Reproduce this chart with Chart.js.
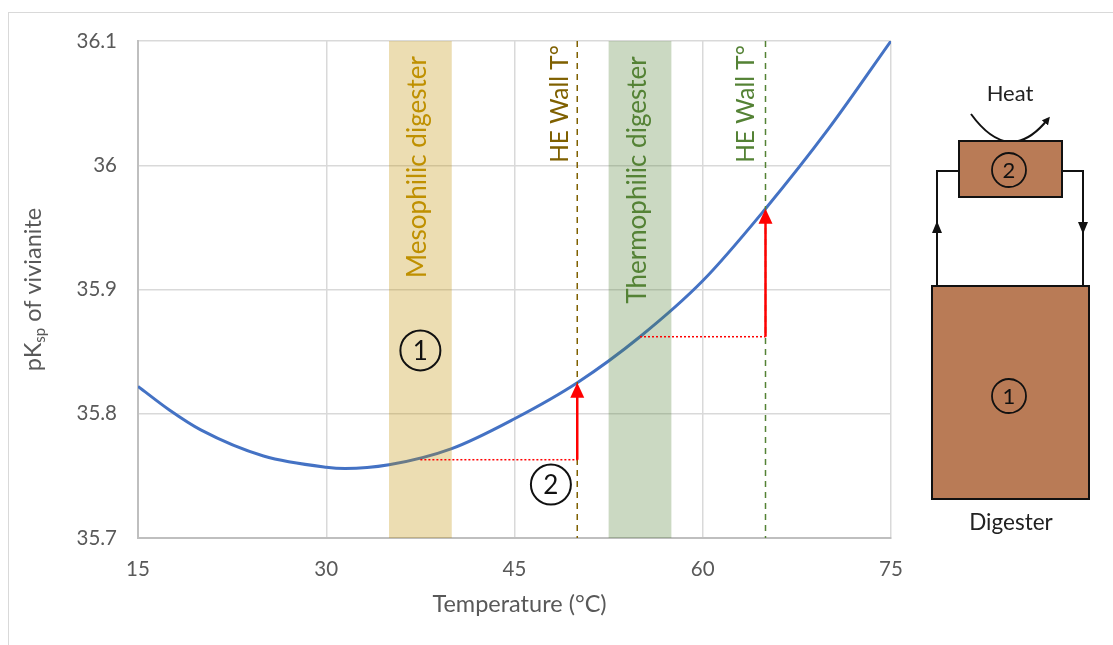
<!DOCTYPE html>
<html lang="en">
<head>
<meta charset="UTF-8">
<title>pKsp of vivianite vs temperature</title>
<script src="https://cdn.jsdelivr.net/npm/chart.js"></script>
<style>
    html, body { margin: 0; padding: 0; background: #fff; overflow: hidden; }
    body { width: 1113px; height: 645px; position: relative; font-family: Lato, 'Open Sans', sans-serif; }
    #frame { position: absolute; left: 8px; top: 12px; width: 1200px; height: 700px; border: 1.5px solid #d9d9d9; }
    #chart { position: absolute; left: 0; top: 0; }
    #diagram { position: absolute; left: 0; top: 0; }
</style>
</head>
<body>
<div id="frame"></div>
<canvas id="chart" width="1113" height="645"></canvas>

<!-- digester / heat exchanger sketch -->
<svg id="diagram" width="1113" height="645" font-family="Lato, 'Open Sans', sans-serif">
    <defs>
        <marker id="head" markerWidth="8" markerHeight="8" refX="5" refY="4" orient="auto" markerUnits="userSpaceOnUse">
            <path d="M0,0 L8,4 L0,8 z" fill="#111"/>
        </marker>
    </defs>
    <text x="1010" y="101" text-anchor="middle" font-size="22" fill="#222">Heat</text>
    <path d="M971,114 Q1009.5,167 1048,119" fill="none" stroke="#111" stroke-width="2" marker-end="url(#head)"/>
    <polyline points="937,286 937,171 959,171" fill="none" stroke="#111" stroke-width="2"/>
    <polyline points="1062,171 1083,171 1083,286" fill="none" stroke="#111" stroke-width="2"/>
    <polygon points="937,221 932,233 942,233" fill="#111"/>
    <polygon points="1083,234 1078,222 1088,222" fill="#111"/>
    <rect x="959" y="141" width="103" height="56" fill="#B97B56" stroke="#111" stroke-width="2"/>
    <circle cx="1009" cy="170" r="17" fill="none" stroke="#111" stroke-width="1.8"/>
    <text x="1009" y="178" text-anchor="middle" font-size="22" fill="#111">2</text>
    <rect x="932" y="286" width="157" height="213" fill="#B97B56" stroke="#111" stroke-width="2"/>
    <circle cx="1009" cy="396" r="17" fill="none" stroke="#111" stroke-width="1.8"/>
    <text x="1009" y="404" text-anchor="middle" font-size="22" fill="#111">1</text>
    <text x="1011" y="530" text-anchor="middle" font-size="22.5" fill="#222">Digester</text>
</svg>

<script>
// curve: temperature (°C) -> pKsp
const temps = [15, 17.5, 20, 25, 30, 31.5, 35, 40, 45, 50, 55, 60, 65, 70, 75];
const pksp  = [35.822, 35.803, 35.787, 35.766, 35.757, 35.756, 35.759, 35.772, 35.796, 35.825, 35.862, 35.907, 35.965, 36.029, 36.100];

const xTicks = [15, 30, 45, 60, 75];
const yTicks = [35.7, 35.8, 35.9, 36, 36.1];

// shaded digester ranges
const bandNames  = ['Mesophilic digester', 'Thermophilic digester'];
const bandRanges = [[35, 40], [52.5, 57.5]];

// heat exchanger wall temperatures
const wallNames = ['HE Wall T°', 'HE Wall T°'];
const wallTemps = [50, 65];

// red arrows: digester temp -> wall temp
const stepStart = [37.5, 55];
const stepFrom  = [35.763, 35.862];
const stepTo    = [35.825, 35.965];

// circled markers
const markerLabels = ['1', '2'];
const markerX = [37.5, 47.9];
const markerY = [35.851, 35.743];

const FONT = "Lato, 'Open Sans', sans-serif";

const overlay = {
    id: 'overlay',
    afterDatasetsDraw(chart) {
        const { ctx, chartArea: a, scales: { x, y } } = chart;
        ctx.save();

        // bands (drawn over the curve, semi transparent)
        const bandFill = ['rgba(191,144,0,0.3)', 'rgba(84,130,53,0.3)'];
        bandRanges.forEach((r, i) => {
            const x0 = x.getPixelForValue(r[0]);
            const x1 = x.getPixelForValue(r[1]);
            ctx.fillStyle = bandFill[i];
            ctx.fillRect(x0, a.top, x1 - x0, a.bottom - a.top);
        });

        // dashed wall lines
        const wallColor = ['#7F6000', '#548235'];
        ctx.lineWidth = 1.5;
        ctx.setLineDash([6, 5]);
        wallTemps.forEach((t, i) => {
            const px = x.getPixelForValue(t);
            ctx.strokeStyle = wallColor[i];
            ctx.beginPath();
            ctx.moveTo(px, a.top);
            ctx.lineTo(px, a.bottom);
            ctx.stroke();
        });

        // red dotted levels + arrows
        ctx.strokeStyle = '#FF0000';
        ctx.fillStyle = '#FF0000';
        wallTemps.forEach((t, i) => {
            const px = x.getPixelForValue(t);
            const y0 = y.getPixelForValue(stepFrom[i]);
            const y1 = y.getPixelForValue(stepTo[i]);
            ctx.setLineDash([2, 2]);
            ctx.lineWidth = 1.5;
            ctx.beginPath();
            ctx.moveTo(x.getPixelForValue(stepStart[i]), y0);
            ctx.lineTo(px, y0);
            ctx.stroke();
            ctx.setLineDash([]);
            ctx.lineWidth = 2.5;
            ctx.beginPath();
            ctx.moveTo(px, y0);
            ctx.lineTo(px, y1 + 14);
            ctx.stroke();
            ctx.beginPath();
            ctx.moveTo(px, y1);
            ctx.lineTo(px - 7, y1 + 15);
            ctx.lineTo(px + 7, y1 + 15);
            ctx.closePath();
            ctx.fill();
        });

        // rotated labels
        const labels = [
            { text: bandNames[0], cx: x.getPixelForValue((bandRanges[0][0] + bandRanges[0][1]) / 2) - 3, cy: a.top + 126, color: '#BF9000' },
            { text: wallNames[0], cx: x.getPixelForValue(wallTemps[0]) - 17, cy: a.top + 63, color: '#7F6000' },
            { text: bandNames[1], cx: x.getPixelForValue((bandRanges[1][0] + bandRanges[1][1]) / 2) - 2, cy: a.top + 139, color: '#548235' },
            { text: wallNames[1], cx: x.getPixelForValue(wallTemps[1]) - 19, cy: a.top + 63, color: '#548235' }
        ];
        ctx.textAlign = 'center';
        ctx.textBaseline = 'middle';
        labels.forEach((l, i) => {
            ctx.save();
            ctx.translate(l.cx, l.cy);
            ctx.rotate(-Math.PI / 2);
            ctx.font = (i % 2 === 0 ? '26px ' : '24.5px ') + FONT;
            ctx.fillStyle = l.color;
            ctx.fillText(l.text, 0, 0);
            ctx.restore();
        });

        // circled numbers
        ctx.strokeStyle = '#111';
        ctx.fillStyle = '#111';
        ctx.lineWidth = 2;
        markerLabels.forEach((m, i) => {
            const cx = x.getPixelForValue(markerX[i]);
            const cy = y.getPixelForValue(markerY[i]);
            ctx.beginPath();
            ctx.arc(cx, cy, 20, 0, Math.PI * 2);
            ctx.stroke();
            ctx.font = '26px ' + FONT;
            ctx.fillText(m, cx, cy + 1);
        });

        ctx.restore();
    },
    afterDraw(chart) {
        const { ctx, chartArea: a } = chart;
        ctx.save();
        ctx.fillStyle = '#595959';
        ctx.textBaseline = 'middle';

        // x axis title
        ctx.font = '23.5px ' + FONT;
        ctx.textAlign = 'center';
        ctx.fillText('Temperature (°C)', (a.left + a.right) / 2 + 5, 604);

        // y axis title with subscript
        ctx.translate(33, (a.top + a.bottom) / 2);
        ctx.rotate(-Math.PI / 2);
        ctx.textAlign = 'left';
        const big = '23.5px ' + FONT, small = '15px ' + FONT;
        ctx.font = big;
        const w1 = ctx.measureText('pK').width;
        const w3 = ctx.measureText(' of vivianite').width;
        ctx.font = small;
        const w2 = ctx.measureText('sp').width;
        let sx = -(w1 + w2 + w3) / 2;
        ctx.font = big;
        ctx.fillText('pK', sx, 0);
        sx += w1;
        ctx.font = small;
        ctx.fillText('sp', sx, 7);
        sx += w2;
        ctx.font = big;
        ctx.fillText(' of vivianite', sx, 0);
        ctx.restore();
    }
};

new Chart(document.getElementById('chart'), {
    type: 'line',
    data: {
        datasets: [{
            data: temps.map((t, i) => ({ x: t, y: pksp[i] })),
            borderColor: '#4472C4',
            borderWidth: 3,
            pointRadius: 0,
            cubicInterpolationMode: 'monotone',
            fill: false
        }]
    },
    options: {
        responsive: false,
        animation: false,
        layout: { padding: { left: 0, right: 222, top: 41, bottom: 0 } },
        plugins: { legend: { display: false }, tooltip: { enabled: false } },
        scales: {
            x: {
                type: 'linear',
                min: xTicks[0],
                max: xTicks[xTicks.length - 1],
                afterBuildTicks: s => { s.ticks = xTicks.map(v => ({ value: v })); },
                afterFit: s => { s.height = 107; },
                ticks: { padding: 19, color: '#595959', font: { family: FONT, size: 20.5 }, maxRotation: 0 },
                grid: { color: '#d9d9d9', lineWidth: 1.5, drawTicks: false },
                border: { color: '#bfbfbf', width: 2 }
            },
            y: {
                min: yTicks[0],
                max: yTicks[yTicks.length - 1],
                afterBuildTicks: s => { s.ticks = yTicks.map(v => ({ value: v })); },
                afterFit: s => { s.width = 138; },
                ticks: {
                    padding: 21, color: '#595959', font: { family: FONT, size: 20.5 },
                    callback: v => String(+v.toFixed(1))
                },
                grid: { color: '#d9d9d9', lineWidth: 1.5, drawTicks: false },
                border: { color: '#bfbfbf', width: 2 }
            }
        }
    },
    plugins: [overlay]
});
</script>
</body>
</html>
